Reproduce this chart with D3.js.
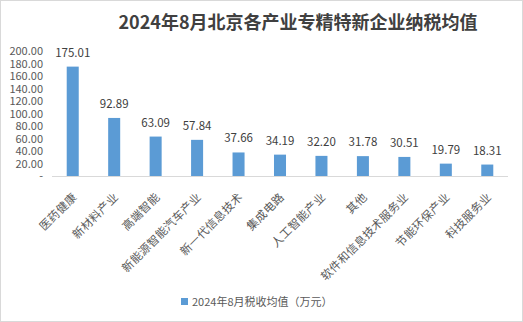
<!DOCTYPE html>
<html><head><meta charset="utf-8">
<script src="https://cdn.jsdelivr.net/npm/d3@7/dist/d3.min.js"></script>
<style>
html,body{margin:0;padding:0;background:#fff;}
svg{display:block;font-family:"Microsoft YaHei","Noto Sans CJK SC",sans-serif;}
</style></head><body>
<script>
const categories = ["医药健康","新材料产业","高端智能","新能源智能汽车产业","新一代信息技术","集成电路","人工智能产业","其他","软件和信息技术服务业","节能环保产业","科技服务业"];
const values = [175.01,92.89,63.09,57.84,37.66,34.19,32.20,31.78,30.51,19.79,18.31];
const yTicks = [0,20,40,60,80,100,120,140,160,180,200];
const title = "2024年8月北京各产业专精特新企业纳税均值";
const seriesName = "2024年8月税收均值（万元）";

const W=523,H=322;
const svg=d3.select("body").append("svg").attr("width",W).attr("height",H);
svg.append("rect").attr("x",0.5).attr("y",0.5).attr("width",W-1).attr("height",H-1).attr("fill","#fff").attr("stroke","#d9d9d9");

const x=d3.scaleBand().domain(categories).range([52,508]).paddingInner(0.71).paddingOuter(0.355);
const y=d3.scaleLinear().domain([0,200]).range([176,51]);

svg.append("text").attr("x",298).attr("y",29).attr("text-anchor","middle")
  .attr("font-size",18).attr("font-weight","bold").attr("fill","#404040").text(title);

// y axis labels
svg.append("g").selectAll("text").data(yTicks).join("text")
  .attr("x",43).attr("y",d=>y(d)+4).attr("text-anchor","end")
  .attr("font-size",11).attr("fill","#595959")
  .text(d=>d===0?"-":d3.format(".2f")(d));

// bars
svg.append("g").selectAll("rect").data(values).join("rect")
  .attr("x",(d,i)=>x(categories[i])).attr("width",x.bandwidth())
  .attr("y",d=>y(d)).attr("height",d=>y(0)-y(d)).attr("fill","#5b9bd5");

// axis line
svg.append("line").attr("x1",52).attr("x2",508).attr("y1",y(0)+0.5).attr("y2",y(0)+0.5)
  .attr("stroke","#d9d9d9").attr("stroke-width",1);

// value labels
svg.append("g").selectAll("text").data(values).join("text")
  .attr("x",(d,i)=>x(categories[i])+x.bandwidth()/2).attr("y",d=>y(d)-10)
  .attr("text-anchor","middle").attr("font-size",11.5).attr("fill","#404040")
  .text(d=>d3.format(".2f")(d));

// category labels
svg.append("g").selectAll("text").data(categories).join("text")
  .attr("transform",d=>`translate(${x(d)+x.bandwidth()/2+2},${y(0)+19}) rotate(-45)`)
  .attr("text-anchor","end").attr("font-size",11.5).attr("fill","#595959")
  .attr("letter-spacing",0.3)
  .attr("dy","0.35em").text(d=>d);

// legend
svg.append("rect").attr("x",181).attr("y",298).attr("width",7).attr("height",7).attr("fill","#5b9bd5");
svg.append("text").attr("x",192).attr("y",305.5).attr("font-size",11).attr("fill","#595959").text(seriesName);
</script>
</body></html>
